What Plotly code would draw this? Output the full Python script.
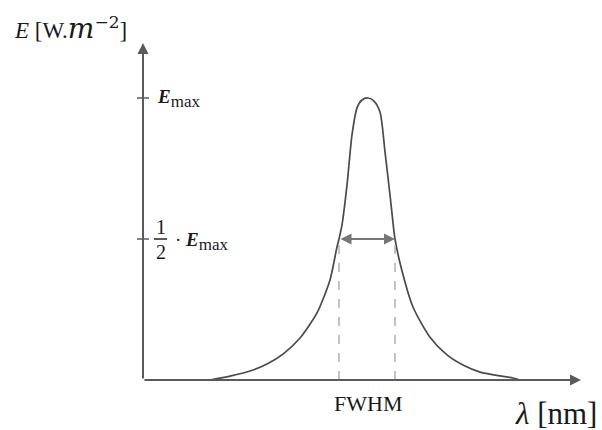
import plotly.graph_objects as go

# Curve: wavelength (arbitrary nm units) and irradiance (E / E_max)
lam = [67, 87, 107, 124, 140, 157, 174, 187, 194, 196, 199, 204, 209, 214, 219, 225,
       231, 237, 242, 247, 251, 252, 257, 270, 287, 304, 320, 337, 370, 377]
E = [0.0, 0.014, 0.032, 0.057, 0.092, 0.149, 0.238, 0.355, 0.472, 0.50, 0.550, 0.691, 0.869,
     0.965, 0.993, 1.0, 0.989, 0.950, 0.809, 0.656, 0.525, 0.50, 0.415, 0.259,
     0.152, 0.089, 0.053, 0.028, 0.007, 0.0]

E_max = 1.0
half = 0.5
fwhm_left, fwhm_right = 196, 252
x_end = 438
y_end = 1.195

SERIF = "Liberation Serif"
AX_COL = "#5a5a5a"

fig = go.Figure()
fig.add_trace(go.Scatter(x=lam, y=E, mode="lines",
                         line=dict(color="#4a4a4a", width=1.7, shape="spline", smoothing=0.7),
                         hoverinfo="skip", showlegend=False))

shapes = []
# dashed FWHM guides
for xv in (fwhm_left, fwhm_right):
    shapes.append(dict(type="line", x0=xv, x1=xv, y0=0, y1=half,
                       line=dict(color="#b0b0b0", width=1.5, dash="dash")))
# y ticks
for yv in (E_max, half):
    shapes.append(dict(type="line", x0=-6, x1=6, y0=yv, y1=yv, line=dict(color=AX_COL, width=1.5)))
# fraction bar
shapes.append(dict(type="line", x0=11, x1=24, y0=0.5, y1=0.5, line=dict(color="#222", width=1.5)))

ann = []
# axes with arrows
ann.append(dict(x=0, y=y_end, ax=0, ay=0, xref="x", yref="y", axref="x", ayref="y", text="", showarrow=True,
                arrowhead=2, arrowsize=1.1, arrowwidth=2, arrowcolor=AX_COL))
ann.append(dict(x=x_end, y=0, ax=0, ay=0, xref="x", yref="y", axref="x", ayref="y", text="", showarrow=True,
                arrowhead=2, arrowsize=1.1, arrowwidth=2, arrowcolor=AX_COL))
# FWHM double arrow
ann.append(dict(x=fwhm_right, y=half, ax=fwhm_left, ay=half, xref="x", yref="y", axref="x", ayref="y", text="",
                showarrow=True, arrowhead=2, startarrowhead=2, arrowside="end+start", arrowsize=1.1,
                startarrowsize=1.1, arrowwidth=2, arrowcolor="#777"))

txt = "#1a1a1a"
emax_html = ("<b><i>E</i></b><sub><span style='font-size:17px'>max</span></sub>")
ann.append(dict(x=-131, y=1.245, xref="x", yref="y", xanchor="left", yanchor="middle", showarrow=False,
                text=("<i>E</i> [W.<span style='font-family:DejaVu Serif;font-size:28px'><i>m</i></span>"
                      "<sup><span style='font-family:DejaVu Serif;font-size:17px'>−2</span></sup>]"),
                font=dict(family=SERIF, size=23, color=txt)))
ann.append(dict(x=12, y=1.0, xref="x", yref="y", xanchor="left", yanchor="middle", showarrow=False,
                text=emax_html, font=dict(family=SERIF, size=19, color=txt)))
ann.append(dict(x=17.5, y=0.543, xref="x", yref="y", xanchor="center", yanchor="middle", showarrow=False,
                text="1", font=dict(family=SERIF, size=20, color=txt)))
ann.append(dict(x=17.5, y=0.455, xref="x", yref="y", xanchor="center", yanchor="middle", showarrow=False,
                text="2", font=dict(family=SERIF, size=20, color=txt)))
ann.append(dict(x=30, y=0.49, xref="x", yref="y", xanchor="left", yanchor="middle", showarrow=False,
                text="· " + emax_html, font=dict(family=SERIF, size=19, color=txt)))
ann.append(dict(x=225, y=-0.082, xref="x", yref="y", xanchor="center", yanchor="middle", showarrow=False,
                text="FWHM", font=dict(family=SERIF, size=22, color=txt)))
ann.append(dict(x=370, y=-0.118, xref="x", yref="y", xanchor="left", yanchor="middle", showarrow=False,
                text="<i>λ</i> [nm]", font=dict(family=SERIF, size=31, color=txt)))

fig.update_layout(
    width=602, height=430, margin=dict(l=0, r=0, t=0, b=0),
    paper_bgcolor="white", plot_bgcolor="white",
    xaxis=dict(range=[-143, 459], visible=False, fixedrange=True),
    yaxis=dict(range=[-50 / 282, 380 / 282], visible=False, fixedrange=True),
    shapes=shapes, annotations=ann, showlegend=False,
)
fig.write_html("out.html")
